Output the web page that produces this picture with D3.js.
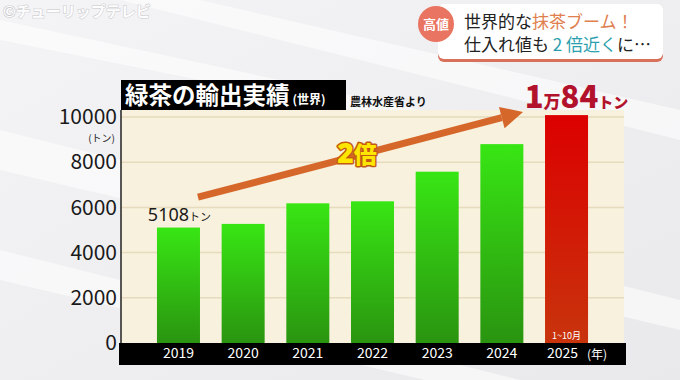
<!DOCTYPE html>
<html>
<head>
<meta charset="utf-8">
<script src="https://cdn.jsdelivr.net/npm/d3@7"></script>
<style>
  body { margin: 0; background: #eeeef0; }
  svg { display: block; }
  text { font-family: "Noto Sans CJK JP", "Noto Sans", sans-serif; }
</style>
</head>
<body>
<svg id="chart"></svg>
<script>
const width = 680;
const height = 380;

const years = ['2019', '2020', '2021', '2022', '2023', '2024', '2025'];
const exports = [5108, 5270, 6180, 6270, 7580, 8800, 10084];
const yTicks = [0, 2000, 4000, 6000, 8000, 10000];

const svg = d3.select('#chart')
    .attr('width', width)
    .attr('height', height);

const defs = svg.append('defs');

const bg = defs.append('linearGradient').attr('id', 'bg')
    .attr('x1', 0).attr('y1', 0).attr('x2', 1).attr('y2', 1);
bg.append('stop').attr('offset', 0).attr('stop-color', '#f4f4f6');
bg.append('stop').attr('offset', 1).attr('stop-color', '#e9e9ec');

const green = defs.append('linearGradient').attr('id', 'green')
    .attr('x1', 0).attr('y1', 0).attr('x2', 0).attr('y2', 1);
green.append('stop').attr('offset', 0).attr('stop-color', '#38e614');
green.append('stop').attr('offset', 1).attr('stop-color', '#2a9410');

const red = defs.append('linearGradient').attr('id', 'red')
    .attr('x1', 0).attr('y1', 0).attr('x2', 0).attr('y2', 1);
red.append('stop').attr('offset', 0).attr('stop-color', '#dc0000');
red.append('stop').attr('offset', 1).attr('stop-color', '#c8340c');

// background with soft diagonal bands
svg.append('rect').attr('width', width).attr('height', height).attr('fill', 'url(#bg)');
const bands = [
    [[0, 130], [680, 300], [680, 330], [0, 170]],
    [[0, 250], [680, 420], [680, 440], [0, 280]],
    [[200, 0], [680, 110], [680, 140], [120, 0]],
    [[0, 40], [400, 120], [420, 110], [0, 20]]
];
svg.selectAll('.band').data(bands).enter().append('polygon')
    .attr('points', d => d.map(p => p.join(',')).join(' '))
    .attr('fill', '#ffffff').attr('opacity', 0.55);

const plotLeft = 121, plotRight = 624, plotTop = 110, plotBottom = 343;

const x = d3.scaleBand().domain(years).range([plotLeft, plotRight])
    .paddingInner(0.335).paddingOuter(0.556);
const y = d3.scaleLinear().domain([0, 10000]).range([plotBottom, plotBottom - 226]);

// plot area
svg.append('rect')
    .attr('x', plotLeft).attr('y', plotTop)
    .attr('width', plotRight - plotLeft).attr('height', plotBottom - plotTop)
    .attr('fill', '#f8f1dd');

svg.selectAll('.grid').data(yTicks.slice(1)).enter().append('line')
    .attr('x1', plotLeft).attr('x2', plotRight)
    .attr('y1', d => y(d)).attr('y2', d => y(d))
    .attr('stroke', '#e6dbbd').attr('stroke-width', 1.5);

svg.append('line')
    .attr('x1', plotLeft).attr('x2', plotLeft)
    .attr('y1', plotTop).attr('y2', plotBottom)
    .attr('stroke', '#222').attr('stroke-width', 1.5);

// bars
svg.selectAll('.bar').data(exports).enter().append('rect')
    .attr('x', (d, i) => x(years[i]))
    .attr('y', d => y(d))
    .attr('width', x.bandwidth())
    .attr('height', d => y(0) - y(d))
    .attr('fill', (d, i) => years[i] === '2025' ? 'url(#red)' : 'url(#green)');

// y axis labels
const yAxis = svg.append('g')
    .attr('transform', `translate(${plotLeft - 4}, 0)`)
    .call(d3.axisLeft(y).tickValues(yTicks).tickFormat(d3.format('d')).tickSize(0).tickPadding(0));
yAxis.select('.domain').remove();
yAxis.selectAll('text')
    .attr('font-size', 21).attr('fill', '#1a1a1a')
    .attr('font-family', '"Noto Sans", sans-serif')
    .attr('font-weight', 400);
svg.append('text').attr('x', plotLeft - 6).attr('y', y(10000) + 25)
    .attr('text-anchor', 'end').attr('font-size', 10).attr('fill', '#222')
    .text('(トン)');

// x axis band
svg.append('rect')
    .attr('x', plotLeft - 2).attr('y', plotBottom)
    .attr('width', plotRight - plotLeft + 4).attr('height', 22)
    .attr('fill', '#000');
const xAxis = svg.append('g')
    .attr('transform', `translate(0, ${plotBottom})`)
    .call(d3.axisBottom(x).tickSize(0).tickPadding(5));
xAxis.select('.domain').remove();
xAxis.selectAll('text')
    .attr('font-size', 14).attr('fill', '#fff')
    .attr('font-family', '"Noto Sans", sans-serif')
    .attr('dx', d => d === '2025' ? -4 : 0);
svg.append('text')
    .attr('x', x('2025') + x.bandwidth() - 1).attr('y', plotBottom + 16)
    .attr('font-size', 12).attr('fill', '#fff').text('(年)');

svg.append('text')
    .attr('x', x('2025') + x.bandwidth() / 2).attr('y', plotBottom - 4)
    .attr('text-anchor', 'middle').attr('font-size', 9).attr('fill', '#fff')
    .text('1~10月');

// title
svg.append('rect').attr('x', plotLeft).attr('y', 80).attr('width', 225).attr('height', 30).attr('fill', '#000');
const title = svg.append('text').attr('x', plotLeft + 4).attr('y', 104).attr('fill', '#fff').attr('font-weight', 700);
title.append('tspan').attr('font-size', 23.5).text('緑茶の輸出実績');
title.append('tspan').attr('font-size', 12).attr('dx', 3).text('(世界)');
svg.append('text').attr('x', 350).attr('y', 106)
    .attr('font-size', 11).attr('font-weight', 700).attr('fill', '#111')
    .text('農林水産省より');

// value labels
const first = svg.append('text')
    .attr('x', x('2019') + x.bandwidth() / 2 + 1).attr('y', y(exports[0]) - 7)
    .attr('text-anchor', 'middle').attr('fill', '#1a1a1a');
first.append('tspan').attr('font-size', 18).attr('font-family', '"Noto Sans", sans-serif').text(d3.format('d')(exports[0]));
first.append('tspan').attr('font-size', 11).text('トン');

const last = svg.append('text')
    .attr('x', x('2025') + x.bandwidth() / 2 + 10).attr('y', y(exports[6]) - 7)
    .attr('text-anchor', 'middle').attr('fill', '#b3122c').attr('font-weight', 900)
    .attr('font-family', '"Noto Sans", sans-serif');
last.append('tspan').attr('font-size', 31).text('1');
last.append('tspan').attr('font-size', 17).attr('font-family', '"Noto Sans CJK JP"').text('万');
last.append('tspan').attr('font-size', 31).text('84');
last.append('tspan').attr('font-size', 15).attr('font-family', '"Noto Sans CJK JP"').text('トン');

// arrow
const ax0 = x('2019') + x.bandwidth() - 2, ay0 = y(6450);
const ax1 = x('2025') - 22, ay1 = y(10220);
const ang = Math.atan2(ay1 - ay0, ax1 - ax0);
const headLen = 22, headW = 11;
const bx = ax1 - headLen * Math.cos(ang), by = ay1 - headLen * Math.sin(ang);
svg.append('line')
    .attr('x1', ax0).attr('y1', ay0).attr('x2', bx).attr('y2', by)
    .attr('stroke', '#d6672a').attr('stroke-width', 7);
svg.append('polygon')
    .attr('points', [
        [ax1, ay1],
        [bx + headW * Math.sin(ang), by - headW * Math.cos(ang)],
        [bx - headW * Math.sin(ang), by + headW * Math.cos(ang)]
    ].map(p => p.join(',')).join(' '))
    .attr('fill', '#d6672a');

const twice = svg.append('text').attr('x', 357).attr('y', 163)
    .attr('text-anchor', 'middle').attr('font-weight', 900)
    .attr('fill', '#ffe600').attr('stroke', '#c25a14').attr('stroke-width', 3)
    .attr('paint-order', 'stroke').attr('stroke-linejoin', 'round');
twice.append('tspan').attr('font-size', 28).attr('font-family', '"Noto Sans", sans-serif').text('2');
twice.append('tspan').attr('font-size', 23).text('倍');

// caption box
svg.append('rect').attr('x', 438).attr('y', 7).attr('width', 225).attr('height', 55).attr('rx', 6)
    .attr('fill', '#d9705a');
svg.append('rect').attr('x', 438).attr('y', 4).attr('width', 225).attr('height', 55).attr('rx', 6)
    .attr('fill', '#fff');
svg.append('circle').attr('cx', 436).attr('cy', 24).attr('r', 18).attr('fill', '#e87461');
svg.append('text').attr('x', 436).attr('y', 29).attr('text-anchor', 'middle')
    .attr('font-size', 13).attr('font-weight', 700).attr('fill', '#fff').text('高値');
const c1 = svg.append('text').attr('x', 464).attr('y', 28).attr('font-size', 17).attr('fill', '#222');
c1.append('tspan').text('世界的な');
c1.append('tspan').attr('fill', '#e0804f').text('抹茶ブーム！');
const c2 = svg.append('text').attr('x', 464).attr('y', 51).attr('font-size', 17).attr('fill', '#222');
c2.append('tspan').text('仕入れ値も');
c2.append('tspan').attr('fill', '#2c9fae').text(' 2 倍近く');
c2.append('tspan').text('に…');

// watermark
svg.append('text').attr('x', 3).attr('y', 17).attr('font-size', 15).attr('font-weight', 700)
    .attr('fill', '#ffffff').attr('stroke', '#c4c4c8').attr('stroke-width', 1)
    .attr('paint-order', 'stroke').attr('opacity', 0.9)
    .text('©チューリップテレビ');
</script>
</body>
</html>
